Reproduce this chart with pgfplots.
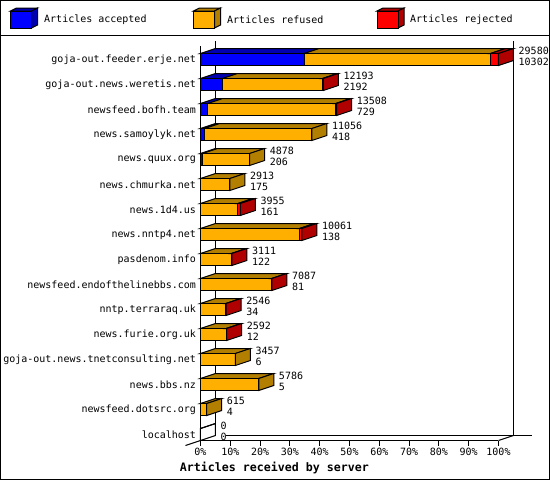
\documentclass[border=0pt]{standalone}
\usepackage{fontspec}
\usepackage{pgfplots}
\pgfplotsset{compat=1.18}
\setmainfont{DejaVu Sans Mono}
\definecolor{acc}{HTML}{0000FF}
\definecolor{accd}{HTML}{0000B0}
\definecolor{ref}{HTML}{FFAF00}
\definecolor{refd}{HTML}{B37F00}
\definecolor{rej}{HTML}{FF0000}
\definecolor{rejd}{HTML}{B00000}
\newcommand{\dep}{1489} % 15px of depth, in articles

% one stretch of a bar: front and top face
\newcommand{\barpart}[5]{% slot, from, to, colour, dark colour
  \edef\xa{\the\numexpr#2\relax}\edef\xb{\the\numexpr#3\relax}%
  \edef\xc{\the\numexpr#2+\dep\relax}\edef\xd{\the\numexpr#3+\dep\relax}%
  \pgfmathsetmacro\yl{#1-0.24}\pgfmathsetmacro\yh{#1+0.24}\pgfmathsetmacro\yt{#1+0.44}%
  \addplot[fill=#5,draw=black,line width=1pt] coordinates {(\xa,\yh) (\xb,\yh) (\xd,\yt) (\xc,\yt)} -- cycle;
  \addplot[fill=#4,draw=black,line width=1pt] coordinates {(\xa,\yl) (\xb,\yl) (\xb,\yh) (\xa,\yh)} -- cycle;
}
% slot, total, accepted, rejected
\newcommand{\server}[4]{%
  \ifnum#3>200 \barpart{#1}{0}{#3}{acc}{accd}\fi
  \ifnum#3>200 \barpart{#1}{#3}{#2-#4}{ref}{refd}\else\barpart{#1}{0}{#2-#4}{ref}{refd}\fi
  \ifnum#4>0 \barpart{#1}{#2-#4}{#2}{rej}{rejd}\fi
  \edef\xb{\the\numexpr#2\relax}\edef\xd{\the\numexpr#2+\dep\relax}%
  \pgfmathsetmacro\yl{#1-0.24}\pgfmathsetmacro\yh{#1+0.24}\pgfmathsetmacro\yt{#1+0.44}\pgfmathsetmacro\ym{#1-0.04}%
  \ifnum#2=0
    \addplot[draw=black,line width=1pt] coordinates {(\xb,\yl) (\xd,\ym) (\xd,\yt) (\xb,\yh)} -- cycle;
  \else\ifnum#4>0
    \addplot[fill=rejd,draw=black,line width=1pt] coordinates {(\xb,\yl) (\xd,\ym) (\xd,\yt) (\xb,\yh)} -- cycle;
  \else
    \addplot[fill=refd,draw=black,line width=1pt] coordinates {(\xb,\yl) (\xd,\ym) (\xd,\yt) (\xb,\yh)} -- cycle;
  \fi\fi
  \edef\lab{\noexpand\node[anchor=west,inner sep=0pt,xshift=20pt,yshift=9pt] at (axis cs:\xb,#1) {#2};
    \noexpand\node[anchor=west,inner sep=0pt,xshift=20pt,yshift=-2pt] at (axis cs:\xb,#1) {#3};}%
  \lab
}
\newcommand{\swatch}[3]{% left edge, colour, dark colour
  \filldraw[fill=#3,draw=black,line width=1pt] (#1,11) -- (#1+6,8) -- (#1+27,8) -- (#1+21,11) -- cycle;
  \filldraw[fill=#3,draw=black,line width=1pt] (#1+21,11) -- (#1+27,8) -- (#1+27,25) -- (#1+21,28) -- cycle;
  \filldraw[fill=#2,draw=black,line width=1pt] (#1,11) rectangle (#1+21,28);
}

\begin{document}
\begin{tikzpicture}[x=1pt,y=-1pt,font=\fontsize{10}{12}\selectfont]
\path[use as bounding box] (0,0) rectangle (550,480);
\fill[white] (0,0) rectangle (550,480);
\begin{axis}[
  at={(200.5pt,-440.5pt)}, anchor=south west,
  scale only axis, width=298pt, height=395pt,
  xmin=0, xmax=29580, ymin=-0.24, ymax=15.56,
  clip=false,
  scaled x ticks=false,
  axis x line*=bottom, axis y line*=left,
  axis line style={line width=1pt,-},
  major tick length=5pt,
  xtick align=outside, ytick align=inside,
  xtick style={line width=1pt,black},
  ytick style={draw=none},
  xtick={0,2958,5916,8874,11832,14790,17748,20706,23664,26622,29580},
  xticklabels={0\%,10\%,20\%,30\%,40\%,50\%,60\%,70\%,80\%,90\%,100\%},
  ytick={0,...,15},
  yticklabels={localhost,newsfeed.dotsrc.org,news.bbs.nz,goja-out.news.tnetconsulting.net,news.furie.org.uk,nntp.terraraq.uk,newsfeed.endofthelinebbs.com,pasdenom.info,news.nntp4.net,news.1d4.us,news.chmurka.net,news.quux.org,news.samoylyk.net,newsfeed.bofh.team,goja-out.news.weretis.net,goja-out.feeder.erje.net},
  tick label style={font=\fontsize{10}{12}\selectfont},
  x tick label style={yshift=1pt},
  y tick label style={xshift=-1pt},
  xlabel={\fontsize{11.63}{12}\selectfont\bfseries Articles received by server},
  xlabel style={at={(axis description cs:0.248,0)},anchor=center,yshift=-27pt},
]
% back walls and floor
\addplot[black,line width=1pt] coordinates {(1489,-0.04) (1489,15.76)};
\addplot[black,line width=1pt] coordinates {(31069,-0.04) (31069,15.76)};
\addplot[black,line width=1pt] coordinates {(2482,-0.04) (32955,-0.04)};
\addplot[black,line width=1pt] coordinates {(29580,-0.24) (31069,-0.04)};
\addplot[black,line width=1pt] coordinates {(-1489,-0.44) (0,-0.24)};
% slot, total, accepted, rejected
\server{15}{29580}{10302}{800}
\server{14}{12193}{2192}{100}
\server{13}{13508}{729}{100}
\server{12}{11056}{418}{0}
\server{11}{4878}{206}{0}
\server{10}{2913}{175}{0}
\server{9}{3955}{161}{250}
\server{8}{10061}{138}{250}
\server{7}{3111}{122}{30}
\server{6}{7087}{81}{30}
\server{5}{2546}{34}{30}
\server{4}{2592}{12}{30}
\server{3}{3457}{6}{0}
\server{2}{5786}{5}{0}
\server{1}{615}{4}{0}
\server{0}{0}{0}{0}
\end{axis}
\draw[black,line width=1pt] (0.5,0.5) rectangle (549.5,479.5);
\draw[black,line width=1pt] (0,35.5) -- (550,35.5);
\swatch{10.5}{acc}{accd}
\swatch{193.5}{ref}{refd}
\swatch{377}{rej}{rejd}
\node[anchor=west,inner sep=0pt] at (44,20) {Articles accepted};
\node[anchor=west,inner sep=0pt] at (227,20) {Articles refused};
\node[anchor=west,inner sep=0pt] at (410,20) {Articles rejected};
\end{tikzpicture}
\end{document}
